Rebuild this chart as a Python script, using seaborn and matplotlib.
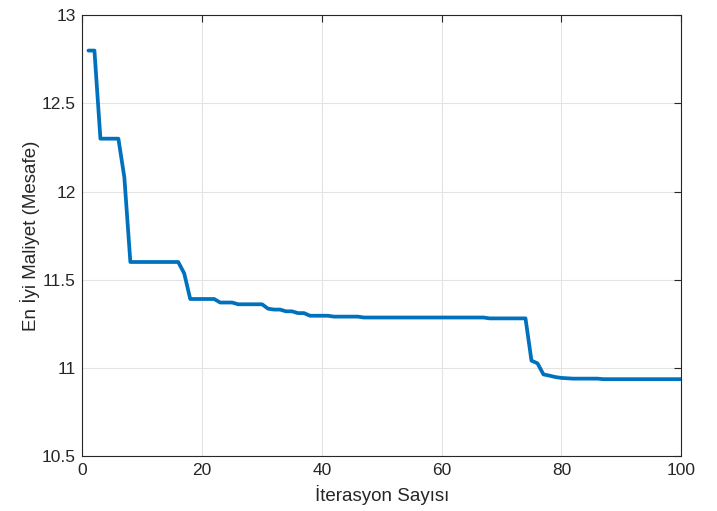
import numpy as np
import pandas as pd
import matplotlib
matplotlib.use("Agg")
import matplotlib.pyplot as plt
import seaborn as sns

# Data (best cost per iteration)
iterations = list(range(1, 101))
best_cost = (
    [12.80, 12.80, 12.30, 12.30, 12.30, 12.30, 12.08]            # 1-7
    + [11.60] * 9                                                # 8-16
    + [11.535]                                                   # 17
    + [11.39] * 5                                                # 18-22
    + [11.37] * 3                                                # 23-25
    + [11.36] * 5                                                # 26-30
    + [11.335, 11.33, 11.33]                                     # 31-33
    + [11.32, 11.32]                                             # 34-35
    + [11.31, 11.31]                                             # 36-37
    + [11.295] * 4                                               # 38-41
    + [11.29] * 5                                                # 42-46
    + [11.285] * 21                                              # 47-67
    + [11.28] * 7                                                # 68-74
    + [11.04, 11.025, 10.962, 10.955, 10.947, 10.942, 10.940]    # 75-81
    + [10.938] * 5                                               # 82-86
    + [10.935] * 14                                              # 87-100
)

x_label = "İterasyon Sayısı"
y_label = "En İyi Maliyet (Mesafe)"
x_ticks = [0, 20, 40, 60, 80, 100]
y_ticks = [10.5, 11, 11.5, 12, 12.5, 13]
y_tick_labels = ["10.5", "11", "11.5", "12", "12.5", "13"]

df = pd.DataFrame({"iter": iterations, "cost": best_cost})

sns.set_style("white")
plt.rcParams["font.family"] = ["Liberation Sans", "DejaVu Sans"]

fig = plt.figure(figsize=(7.17, 5.11), dpi=100)
ax = fig.add_axes([0.115, 0.108, 0.835, 0.862])

sns.lineplot(data=df, x="iter", y="cost", ax=ax, color="#0072BD", linewidth=2.7)

ax.set_xlim(0, 100)
ax.set_ylim(10.5, 13)
ax.set_xticks(x_ticks)
ax.set_xticklabels([str(t) for t in x_ticks])
ax.set_yticks(y_ticks)
ax.set_yticklabels(y_tick_labels)
ax.grid(True, color="#e3e3e3", linewidth=0.8)
ax.set_axisbelow(True)

for s in ax.spines.values():
    s.set_visible(True)
    s.set_color("#262626")
    s.set_linewidth(0.8)

ax.tick_params(direction="in", length=5, width=0.8, colors="#262626",
               labelsize=12.5, top=True, right=True, labelcolor="#262626",
               pad=5)
ax.set_xlabel(x_label, fontsize=13.5, color="#262626", labelpad=5)
ax.set_ylabel(y_label, fontsize=13.5, color="#262626", labelpad=1)

fig.savefig("out.png", dpi=100, facecolor="white")
